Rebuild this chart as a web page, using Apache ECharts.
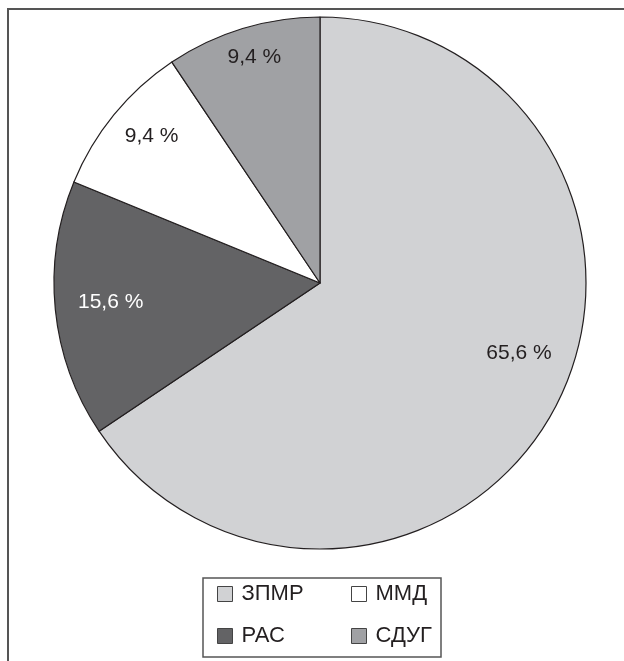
<!DOCTYPE html>
<html>
<head>
<meta charset="utf-8">
<script src="https://cdn.jsdelivr.net/npm/echarts@6/dist/echarts.min.js"></script>
<style>
  html, body { margin: 0; padding: 0; background: #fff; }
  #pie { width: 624px; height: 661px; }
</style>
</head>
<body>
<div id="pie"></div>
<script>
  // доли, %
  var names = ['ЗПМР', 'РАС', 'ММД', 'СДУГ'];
  var values = [65.6, 15.6, 9.4, 9.4];
  var labels = ['65,6 %', '15,6 %', '9,4 %', '9,4 %'];

  var colors = ['#d1d2d4', '#636365', '#ffffff', '#a0a1a4'];
  var labelColors = ['#231f20', '#ffffff', '#231f20', '#231f20'];
  var labelOffsets = [[79, 6], [-74, 6], [-63, -61], [-26, -96]];
  var font = '"Liberation Sans", Arial, sans-serif';

  var chart = echarts.init(document.getElementById('pie'));

  var pieData = names.map(function (n, i) {
    return {
      name: n,
      value: values[i],
      itemStyle: { color: colors[i] },
      label: {
        formatter: labels[i],
        color: labelColors[i],
        offset: labelOffsets[i]
      }
    };
  });

  var legendBase = {
    orient: 'vertical',
    top: 583,
    padding: 0,
    itemGap: 20,
    itemWidth: 15,
    itemHeight: 15,
    icon: 'rect',
    selectedMode: false,
    itemStyle: { borderColor: '#444', borderWidth: 1 },
    textStyle: { fontFamily: font, fontSize: 22, color: '#231f20', padding: [0, 0, 0, 4] }
  };

  var option = {
    animation: false,
    backgroundColor: '#fff',
    legend: [
      Object.assign({}, legendBase, { left: 217, data: ['ЗПМР', 'РАС'] }),
      Object.assign({}, legendBase, { left: 351, data: ['ММД', 'СДУГ'] })
    ],
    graphic: [
      { type: 'line', shape: { x1: 7, y1: 9, x2: 624, y2: 9 }, style: { stroke: '#555', lineWidth: 2 } },
      { type: 'line', shape: { x1: 8, y1: 9, x2: 8, y2: 661 }, style: { stroke: '#555', lineWidth: 2 } },
      { type: 'rect', shape: { x: 203, y: 578, width: 238, height: 79 }, style: { fill: 'none', stroke: '#555', lineWidth: 1.5 } }
    ],
    series: [{
      type: 'pie',
      center: [320, 283],
      radius: 266,
      startAngle: 90,
      clockwise: true,
      silent: true,
      itemStyle: { borderColor: '#231f20', borderWidth: 1.2 },
      label: {
        show: true,
        position: 'inside',
        fontFamily: font,
        fontSize: 21
      },
      labelLine: { show: false },
      data: pieData
    }]
  };

  chart.setOption(option);
</script>
</body>
</html>
